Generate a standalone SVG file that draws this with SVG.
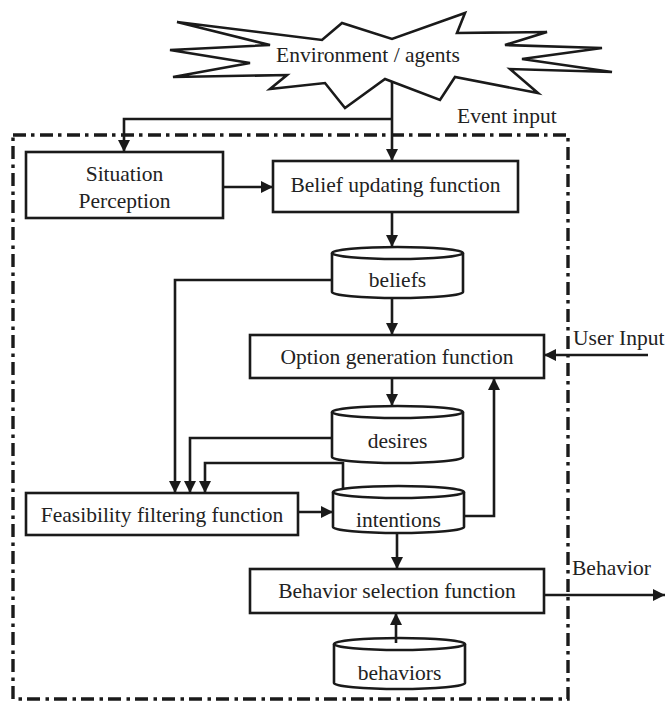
<svg xmlns="http://www.w3.org/2000/svg" width="665" height="702" viewBox="0 0 665 702">
  <style>
    .shape { fill: #fff; stroke: #1a1a1a; stroke-width: 2.6; }
    .wire { fill: none; stroke: #1a1a1a; stroke-width: 2.6; }
    .frame { fill: none; stroke: #1a1a1a; stroke-width: 3.4; stroke-dasharray: 13 5 3.5 5.5; }
    .c { text-anchor: middle; }
  </style>
  <defs>
    <marker id="arrow" markerUnits="userSpaceOnUse" markerWidth="13" markerHeight="13" refX="12" refY="6.5" orient="auto">
      <path d="M0,0.5 L12,6.5 L0,12.5 z" fill="#1a1a1a"/>
    </marker>
  </defs>

  <rect fill="#fff" x="0" y="0" width="665" height="702"/>

  <!-- agent boundary -->
  <rect class="frame" x="13" y="135" width="555" height="564"/>

  <g font-family="'Liberation Serif', 'DejaVu Serif', serif" font-size="21.5" fill="#222">
    <!-- outside world -->
    <g id="environment">
      <polygon class="shape" points="177,22 322,40 342,23 392,39 465,13 457,33 547,32 505,45 602,48 522,59 612,72 510,69 538,93 455,77 440,100 385,79 345,108 325,83 270,89 287,75 173,77 250,63 170,50 270,45"/>
      <text class="c" x="368" y="62">Environment / agents</text>
    </g>

    <g id="situation">
      <rect class="shape" x="26" y="152" width="197" height="66"/>
      <text class="c" x="124.5" y="181">Situation</text>
      <text class="c" x="124.5" y="208">Perception</text>
    </g>

    <g id="belief-update">
      <rect class="shape" x="273" y="161" width="245" height="51"/>
      <text class="c" x="395.5" y="192">Belief updating function</text>
    </g>

    <g id="beliefs">
      <path class="shape" d="M332,253 A65.5,6 0 0 1 463,253 V292 A65.5,6 0 0 1 332,292 Z"/>
      <path class="wire" d="M332,253 A65.5,6 0 0 0 463,253"/>
      <text class="c" x="397.5" y="287">beliefs</text>
    </g>

    <g id="option-generation">
      <rect class="shape" x="250" y="335" width="294" height="43"/>
      <text class="c" x="397" y="364">Option generation function</text>
    </g>

    <g id="desires">
      <path class="shape" d="M332,412 A65.5,6 0 0 1 463,412 V457 A65.5,6 0 0 1 332,457 Z"/>
      <path class="wire" d="M332,412 A65.5,6 0 0 0 463,412"/>
      <text class="c" x="397.5" y="448">desires</text>
    </g>

    <g id="feasibility">
      <rect class="shape" x="26" y="493" width="272" height="42"/>
      <text class="c" x="162" y="522">Feasibility filtering function</text>
    </g>

    <g id="intentions">
      <path class="shape" d="M333,492 A65.5,6 0 0 1 464,492 V527 A65.5,6 0 0 1 333,527 Z"/>
      <path class="wire" d="M333,492 A65.5,6 0 0 0 464,492"/>
      <text class="c" x="398.5" y="527">intentions</text>
    </g>

    <g id="behavior-selection">
      <rect class="shape" x="250" y="569" width="294" height="44"/>
      <text class="c" x="397" y="598">Behavior selection function</text>
    </g>

    <g id="behaviors">
      <path class="shape" d="M334,644 A65.5,6 0 0 1 465,644 V683 A65.5,6 0 0 1 334,683 Z"/>
      <path class="wire" d="M334,644 A65.5,6 0 0 0 465,644"/>
      <text class="c" x="399.5" y="680">behaviors</text>
    </g>

    <!-- connector labels -->
    <text x="457" y="123">Event input</text>
    <text x="573" y="345">User Input</text>
    <text x="572" y="575">Behavior</text>
  </g>

  <!-- connectors -->
  <g id="connectors">
    <path class="wire" marker-end="url(#arrow)" d="M392,82 V161"/>
    <path class="wire" marker-end="url(#arrow)" d="M392,119 H124 V152"/>
    <path class="wire" marker-end="url(#arrow)" d="M223,187 H273"/>
    <path class="wire" marker-end="url(#arrow)" d="M392,212 V247"/>
    <path class="wire" marker-end="url(#arrow)" d="M392,298 V335"/>
    <path class="wire" marker-end="url(#arrow)" d="M332,280 H175 V493"/>
    <path class="wire" marker-end="url(#arrow)" d="M648,355 H544"/>
    <path class="wire" marker-end="url(#arrow)" d="M392,378 V406"/>
    <path class="wire" marker-end="url(#arrow)" d="M332,438 H190 V493"/>
    <path class="wire" marker-end="url(#arrow)" d="M343,489 V463 H205 V493"/>
    <path class="wire" marker-end="url(#arrow)" d="M298,512 H333"/>
    <path class="wire" marker-end="url(#arrow)" d="M464,516 H494 V378"/>
    <path class="wire" marker-end="url(#arrow)" d="M397,533 V569"/>
    <path class="wire" marker-end="url(#arrow)" d="M396,643 V613"/>
    <path class="wire" marker-end="url(#arrow)" d="M544,595 H665"/>
  </g>
</svg>
